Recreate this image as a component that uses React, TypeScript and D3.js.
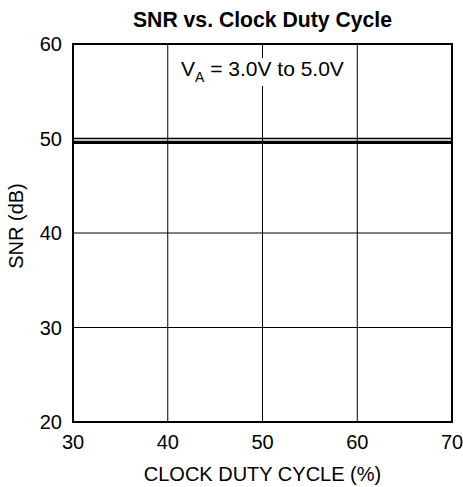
import React from 'react';
import * as d3 from 'd3';

const DUTY = [30, 40, 50, 60, 70];
const SNR_UPPER = [50.0, 50.0, 50.0, 50.0, 50.0];
const SNR_LOWER = [49.6, 49.6, 49.6, 49.6, 49.6];
const X_TICKS = [30, 40, 50, 60, 70];
const Y_TICKS = [20, 30, 40, 50, 60];

export default function App() {
  const width = 463;
  const height = 487;
  const margin = { top: 44, right: 11, bottom: 65, left: 73 };
  const innerW = width - margin.left - margin.right;
  const innerH = height - margin.top - margin.bottom;

  const x = d3.scaleLinear().domain([30, 70]).range([margin.left, margin.left + innerW]);
  const y = d3.scaleLinear().domain([20, 60]).range([margin.top + innerH, margin.top]);

  const line = d3.line<number>().x((_, i) => x(DUTY[i])).y(d => y(d));
  const font = 'Arial, "Liberation Sans", Helvetica, sans-serif';

  return (
    <div style={{ position: 'absolute', left: 0, top: 0, background: 'white' }}>
      <svg width={width} height={height} style={{ display: 'block', fontFamily: font }}>
        <rect width={width} height={height} fill="white" />
        <text x={x(50)} y={26.5} textAnchor="middle" fontSize={21.2} fontWeight="bold" fill="#000">
          SNR vs. Clock Duty Cycle
        </text>

        {/* grid */}
        {X_TICKS.slice(1, -1).map(t => (
          <line key={'gx' + t} x1={x(t)} x2={x(t)} y1={y(20)} y2={y(60)} stroke="#000" strokeWidth={1} />
        ))}
        {Y_TICKS.slice(1, -1).map(t => (
          <line key={'gy' + t} x1={x(30)} x2={x(70)} y1={y(t)} y2={y(t)} stroke="#000" strokeWidth={1} />
        ))}

        {/* annotation */}
        <rect x={176} y={58} width={174} height={28} fill="white" />
        <text x={181} y={76} fontSize={21} fill="#000">
          V<tspan fontSize={14} dy={6}>A</tspan>
          <tspan dy={-6}> = 3.0V to 5.0V</tspan>
        </text>

        {/* data */}
        <path d={line(SNR_UPPER) || ''} fill="none" stroke="#000" strokeWidth={1.3} />
        <path d={line(SNR_LOWER) || ''} fill="none" stroke="#000" strokeWidth={3.3} />

        {/* frame */}
        <rect x={margin.left} y={margin.top} width={innerW} height={innerH} fill="none" stroke="#000" strokeWidth={2} />

        {Y_TICKS.map(t => (
          <text key={'ty' + t} x={margin.left - 11} y={y(t) + 7.3} textAnchor="end" fontSize={20} fill="#000">
            {t}
          </text>
        ))}
        {X_TICKS.map(t => (
          <text key={'tx' + t} x={x(t)} y={margin.top + innerH + 27} textAnchor="middle" fontSize={20} fill="#000">
            {t}
          </text>
        ))}
        <text x={x(50)} y={481} textAnchor="middle" fontSize={20} fill="#000">
          CLOCK DUTY CYCLE (%)
        </text>
        <text transform={`translate(23,226) rotate(-90)`} textAnchor="middle" fontSize={20} fill="#000">
          SNR (dB)
        </text>
      </svg>
    </div>
  );
}
